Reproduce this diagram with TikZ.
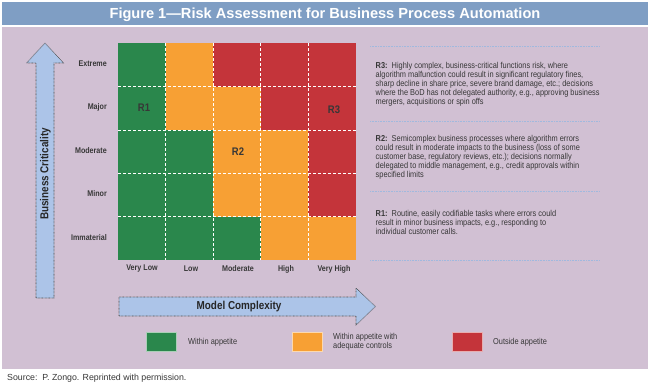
\documentclass[tikz,border=0pt]{standalone}
\usepackage{fontspec}
\setmainfont{Liberation Sans}
\newfontfamily\cond[FakeStretch=0.86]{Liberation Sans}
\definecolor{gr}{RGB}{42,135,76}
\definecolor{or}{RGB}{247,160,52}
\definecolor{rd}{RGB}{196,52,58}
\definecolor{panel}{RGB}{209,192,211}
\definecolor{titlebar}{RGB}{127,158,196}
\definecolor{arrowfill}{RGB}{172,196,232}
\definecolor{txt}{RGB}{55,55,55}
\definecolor{sepc}{RGB}{160,185,222}
\begin{document}
\begin{tikzpicture}[x=1pt,y=-1pt,
  cell/.style={minimum width=47.6pt,minimum height=43.34pt,inner sep=0pt,outer sep=0pt},
  gridline/.style={white,line width=0.9pt,dash pattern=on 3pt off 2pt},
  rowlab/.style={anchor=east,inner sep=0pt,font=\cond\bfseries\fontsize{8.3}{9}\selectfont,text=txt},
  collab/.style={anchor=center,inner sep=0pt,font=\cond\bfseries\fontsize{8.3}{9}\selectfont,text=txt},
  rlab/.style={inner sep=0pt,font=\cond\bfseries\fontsize{11}{12}\selectfont,text=txt},
  arrowbox/.style={fill=arrowfill,draw=black!70,line width=0.6pt,dash pattern=on 0.7pt off 0.7pt},
  axislab/.style={inner sep=0pt,font=\cond\bfseries\fontsize{11.5}{12}\selectfont,text=black!85},
  body/.style={anchor=north west,inner sep=0pt,align=left,font=\cond\fontsize{8.6}{9}\selectfont,text=txt},
  sepline/.style={sepc,line width=0.8pt,dash pattern=on 0.8pt off 0.8pt},
  legbox/.style={minimum width=30pt,minimum height=19pt,inner sep=0pt,draw=white!60!#1,line width=0.6pt,fill=#1},
  legtext/.style={anchor=west,inner sep=0pt,align=left,font=\cond\fontsize{8.6}{9.5}\selectfont,text=txt}
]
\useasboundingbox (0,0) rectangle (650,387);
\fill[white] (0,0) rectangle (650,387);
% title bar and panel
\fill[titlebar] (2,2) rectangle (648,25);
\node[inner sep=0pt,font=\bfseries\fontsize{14.6}{16}\selectfont,text=white] (title) at (325,14.5) {Figure 1—Risk Assessment for Business Process Automation};
\fill[panel] (2,27) rectangle (648,369);
% grid cells
\foreach \row [count=\i from 0] in {{gr,or,rd,rd,rd},{gr,or,or,rd,rd},{gr,gr,or,or,rd},{gr,gr,or,or,rd},{gr,gr,gr,or,or}} {
  \foreach \c [count=\j from 0] in \row {
    \node[cell,fill=\c] (cell-\i-\j) at ({118+47.6*(\j+0.5)},{43.3+43.34*(\i+0.5)}) {};
  }
}
\foreach \k in {1,...,4} {
  \draw[gridline] (cell-0-\k.north west) -- (cell-4-\k.south west);
  \draw[gridline] (cell-\k-0.north west) -- (cell-\k-4.north east);
}
% row labels
\node[rowlab] (r-ext) at (107,64) {Extreme};
\node[rowlab] (r-maj) at (107,107) {Major};
\node[rowlab] (r-mod) at (107,151) {Moderate};
\node[rowlab] (r-min) at (107,194) {Minor};
\node[rowlab] (r-imm) at (107,237.5) {Immaterial};
% column labels
\node[collab] (c-vl) at (142,269) {Very Low};
\node[collab] (c-l) at (191,269) {Low};
\node[collab] (c-m) at (238,269) {Moderate};
\node[collab] (c-h) at (286,269) {High};
\node[collab] (c-vh) at (334,269) {Very High};
% region labels
\node[rlab] (R1) at (144,107.5) {R1};
\node[rlab] (R2) at (238,152) {R2};
\node[rlab] (R3) at (334,110) {R3};
% axis arrows
\draw[arrowbox] (45,43) -- (63.5,63) -- (54,63) -- (54,298) -- (36,298) -- (36,63) -- (26.5,63) -- cycle;
\node[axislab,rotate=90] (ylab) at (45.5,174) {Business Criticality};
\draw[arrowbox] (119,297) -- (356,297) -- (356,288) -- (375.5,306.5) -- (356,325) -- (356,316) -- (119,316) -- cycle;
\node[axislab] (xlab) at (239,306.5) {Model Complexity};
% right text column
\coordinate (s1a) at (370,46); \coordinate (s1b) at (599,46);
\coordinate (s2a) at (370,121); \coordinate (s2b) at (599,121);
\coordinate (s3a) at (370,191); \coordinate (s3b) at (599,191);
\coordinate (s4a) at (370,260); \coordinate (s4b) at (599,260);
\draw[sepline] (s1a) -- (s1b);
\draw[sepline] (s2a) -- (s2b);
\draw[sepline] (s3a) -- (s3b);
\draw[sepline] (s4a) -- (s4b);
\node[body] (t3) at (375.5,62.2) {\textbf{R3:}\ \ Highly complex, business-critical functions risk, where\\
algorithm malfunction could result in significant regulatory fines,\\
sharp decline in share price, severe brand damage, etc.; decisions\\
where the BoD has not delegated authority, e.g., approving business\\
mergers, acquisitions or spin offs};
\node[body] (t2) at (375.5,135.5) {\textbf{R2:}\ \ Semicomplex business processes where algorithm errors\\
could result in moderate impacts to the business (loss of some\\
customer base, regulatory reviews, etc.); decisions normally\\
delegated to middle management, e.g., credit approvals within\\
specified limits};
\node[body] (t1) at (375.5,210.5) {\textbf{R1:}\ \ Routine, easily codifiable tasks where errors could\\
result in minor business impacts, e.g., responding to\\
individual customer calls.};
% legend
\node[legbox=gr] (lg) at (161,341.5) {};
\node[legtext] (lgt) at (188,342.5) {Within appetite};
\node[legbox=or] (lo) at (307,341.5) {};
\node[legtext] (lot) at (333,342) {Within appetite with\\adequate controls};
\node[legbox=rd] (lr) at (467,341.5) {};
\node[legtext] (lrt) at (493,342.5) {Outside appetite};
% source
\node[anchor=west,inner sep=0pt,font=\fontsize{8.8}{10}\selectfont,text=txt] (src) at (7,378.5) {Source:\ \ P. Zongo. Reprinted with permission.};
\end{tikzpicture}
\end{document}
